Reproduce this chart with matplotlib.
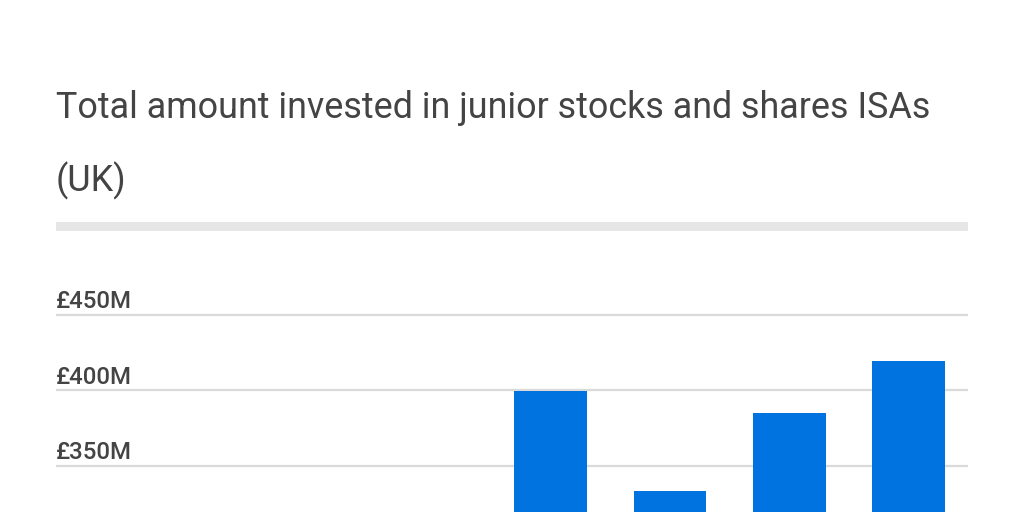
import matplotlib.pyplot as plt
from matplotlib.ticker import FuncFormatter

# Data (only the upper part of the chart is visible in the reference)
YEARS = ["2013-14", "2014-15", "2015-16", "2016-17", "2017-18", "2018-19", "2019-20"]
AMOUNTS_M = [240, 275, 305, 399.6, 333.5, 385, 419.7]
TITLE_LINES = ["Total amount invested in junior stocks and shares ISAs", "(UK)"]
Y_TICKS = [350, 400, 450]

COLOR_BAR = "#0073E1"
COLOR_TEXT = "#444444"
COLOR_GRID = "#DADADA"
COLOR_RULE = "#E6E6E6"

W, H = 1024, 512

plt.rcParams["font.family"] = ["Roboto", "DejaVu Sans"]

fig = plt.figure(figsize=(W / 100, H / 100), dpi=100, facecolor="white")

# title
fig.text(56 / W, 1 - 118 / H, TITLE_LINES[0], fontsize=25.8, color=COLOR_TEXT,
         ha="left", va="baseline")
fig.text(56 / W, 1 - 191 / H, TITLE_LINES[1], fontsize=25.8, color=COLOR_TEXT,
         ha="left", va="baseline")

# grey rule under the title
rule = fig.add_axes([56 / W, 1 - 231 / H, 912 / W, 9 / H])
rule.set_facecolor(COLOR_RULE)
rule.set_xticks([])
rule.set_yticks([])
for s in rule.spines.values():
    s.set_visible(False)

# plot area
ax = fig.add_axes([56 / W, 0, 912 / W, (H - 280) / H])
ax.set_facecolor("white")
x = list(range(len(YEARS)))
ax.bar(x, AMOUNTS_M, width=0.61, color=COLOR_BAR, zorder=3)

ax.set_xlim(-1.15, 6.5)
ax.set_ylim(319.5, 473.2)
ax.set_yticks(Y_TICKS)
ax.yaxis.grid(True, color=COLOR_GRID, linewidth=1.6, zorder=0)
ax.set_xticks([])
ax.set_yticklabels([])
ax.tick_params(length=0)
for s in ax.spines.values():
    s.set_visible(False)

# tick labels sit above their gridlines
fmt = FuncFormatter(lambda v, p: f"£{v:.0f}M")
for v in Y_TICKS:
    ax.text(0, v + 4.6, fmt(v), transform=ax.get_yaxis_transform(),
            fontsize=17.3, fontweight="medium", color=COLOR_TEXT,
            ha="left", va="baseline")

fig.savefig("out.png", dpi=100, facecolor="white")
